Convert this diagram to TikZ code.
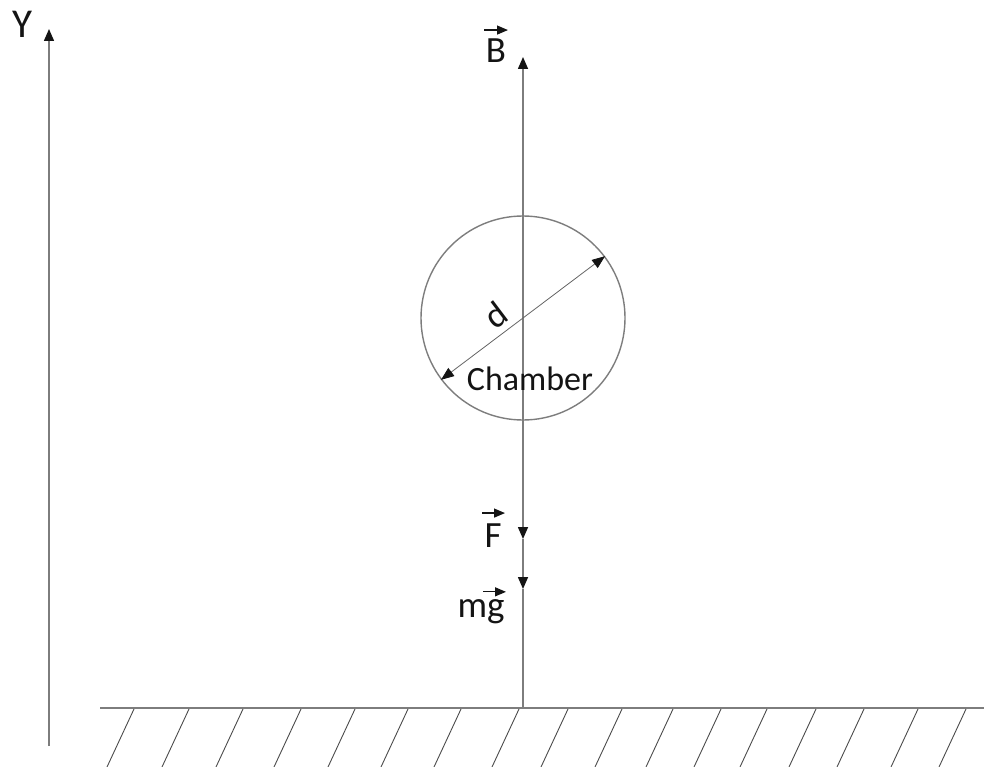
\documentclass[tikz,border=0pt]{standalone}
\usepackage{fontspec}
\setmainfont{Carlito}
\usetikzlibrary{arrows.meta,calc}
\definecolor{linegray}{RGB}{125,125,125}
\definecolor{ink}{RGB}{20,20,20}
\tikzset{
  axisline/.style={draw=linegray,line width=1.5pt},
  tipA/.style={-{Triangle[length=12pt,width=10pt,color=ink]},axisline},
  dimline/.style={draw=linegray!80!black,line width=0.8pt,{Triangle[length=13pt,width=10pt,color=ink]}-{Triangle[length=13pt,width=10pt,color=ink]}},
  vecarrow/.style={draw=ink,line width=1.3pt,-{Triangle[length=11pt,width=9pt]}},
  lbl/.style={inner sep=0pt,anchor=base,text=ink,font=\fontsize{37}{40}\selectfont},
  hatch/.style={draw=linegray!60!black,line width=0.9pt},
}
\begin{document}
\begin{tikzpicture}[x=1pt,y=-1pt]
\useasboundingbox (0,0) rectangle (984,767);
% Y axis
\coordinate (ybot) at (49,746);
\coordinate (ytop) at (49,29);
\draw[tipA] (ybot) -- (ytop);
\node[lbl,font=\fontsize{41}{44}\selectfont] (lY) at (22,38) {Y};
% chamber
\node[circle,draw=linegray,line width=1.4pt,minimum size=204pt,inner sep=0pt] (ch) at (523,318) {};
\coordinate (Btip) at (523,57);
\coordinate (Ftip) at (523,539);
\coordinate (mgtip) at (523,589);
\coordinate (gnd) at (523,708);
\draw[tipA] (ch.center) -- (Btip);
\draw[tipA] (ch.center) -- (Ftip);
\draw[tipA] (Ftip) -- (mgtip);
\draw[axisline] (mgtip) -- (gnd);
\draw[dimline] (ch.217) -- (ch.37);
\node[lbl,font=\fontsize{36}{38}\selectfont,anchor=center,rotate=37] (ld) at (496,315) {d};
\node[lbl,font=\fontsize{34}{38}\selectfont] (lch) at (530,390) {Chamber};
% labels
\node[lbl] (lB) at (496,63) {B};
\draw[vecarrow] ($(lB.north)+(-12,-9)$) -- ++(24,0);
\node[lbl] (lF) at (493,547) {F};
\draw[vecarrow] ($(lF.north)+(-11,-10)$) -- ++(23,0);
\node[lbl] (lmg) at (481,617) {mg};
\draw[vecarrow] ($(lmg.north)+(2,-7)$) -- ++(23,0);
% ground
\coordinate (gl) at (100,708);
\coordinate (gr) at (984,708);
\draw[axisline] (gl) -- (gr);
\foreach \x in {134,189,243,301,355,408,461,519,568,622,673,721,767,816,864,918,966}{
  \draw[hatch] (\x,709) -- ++(-27,58);
}
\end{tikzpicture}
\end{document}
